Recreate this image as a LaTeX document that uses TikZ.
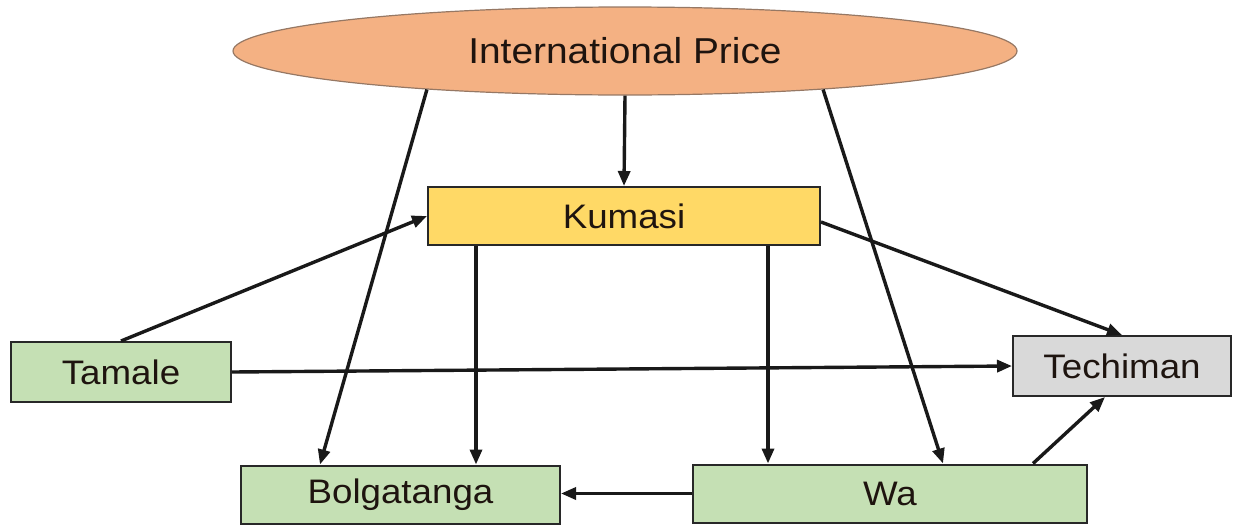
\documentclass[tikz,border=0pt]{standalone}
\usepackage{fontspec}
\setmainfont{Liberation Sans}[FakeStretch=1.08]
\usetikzlibrary{arrows.meta,calc,shapes.geometric}
\definecolor{ipfill}{RGB}{244,177,131}
\definecolor{ipline}{RGB}{150,120,100}
\definecolor{kumfill}{RGB}{255,217,102}
\definecolor{grnfill}{RGB}{197,224,180}
\definecolor{grayfill}{RGB}{217,217,217}
\definecolor{boxline}{RGB}{40,40,40}
\definecolor{txtcol}{RGB}{30,20,15}
\tikzset{
  txt/.style={font=\fontsize{34}{38}\selectfont, text=txtcol},
  boxn/.style={txt, draw=boxline, line width=2pt, rectangle, inner sep=0pt},
  arr/.style={-{Triangle[length=15pt,width=12pt]}, line width=3.4pt, draw=black!90}
}
\begin{document}
\begin{tikzpicture}[x=1pt,y=-1pt]
\useasboundingbox (0,0) rectangle (1233,525);
\node[txt, font=\fontsize{36}{40}\selectfont, ellipse, draw=ipline, line width=1.2pt, fill=ipfill, minimum width=784pt, minimum height=88pt, inner sep=0pt] (ip) at (625,51) {International Price};
\node[boxn, fill=kumfill, minimum width=392pt, minimum height=58pt] (kum) at (624,216) {Kumasi};
\node[boxn, fill=grnfill, minimum width=220pt, minimum height=60pt] (tam) at (121,372) {Tamale};
\node[boxn, fill=grayfill, minimum width=218pt, minimum height=60pt] (tech) at (1122,366) {Techiman};
\node[boxn, fill=grnfill, minimum width=319pt, minimum height=58pt] (bolga) at (400.5,494.5) {Bolgatanga};
\node[boxn, fill=grnfill, minimum width=394pt, minimum height=58pt] (wa) at (890,493.5) {Wa};

\draw[arr] (ip.south) -- (kum.north);
\draw[arr] (ip.191.7) -- (bolga.north -| 320,0);
\draw[arr] (ip.349.3) -- (wa.north -| 943,0);
\draw[arr] (tam.north) -- (kum.west);
\draw[arr] (tam.east) -- (tech.west);
\draw[arr] ($(kum.east)+(0,6)$) -- (tech.north);
\draw[arr] (kum.south -| 476,0) -- (bolga.north -| 476,0);
\draw[arr] (kum.south -| 768,0) -- (wa.north -| 768,0);
\draw[arr] (wa.north -| 1033,0) -- (tech.south -| 1105,0);
\draw[arr] (wa.west) -- (wa.west -| bolga.east);
\end{tikzpicture}
\end{document}
